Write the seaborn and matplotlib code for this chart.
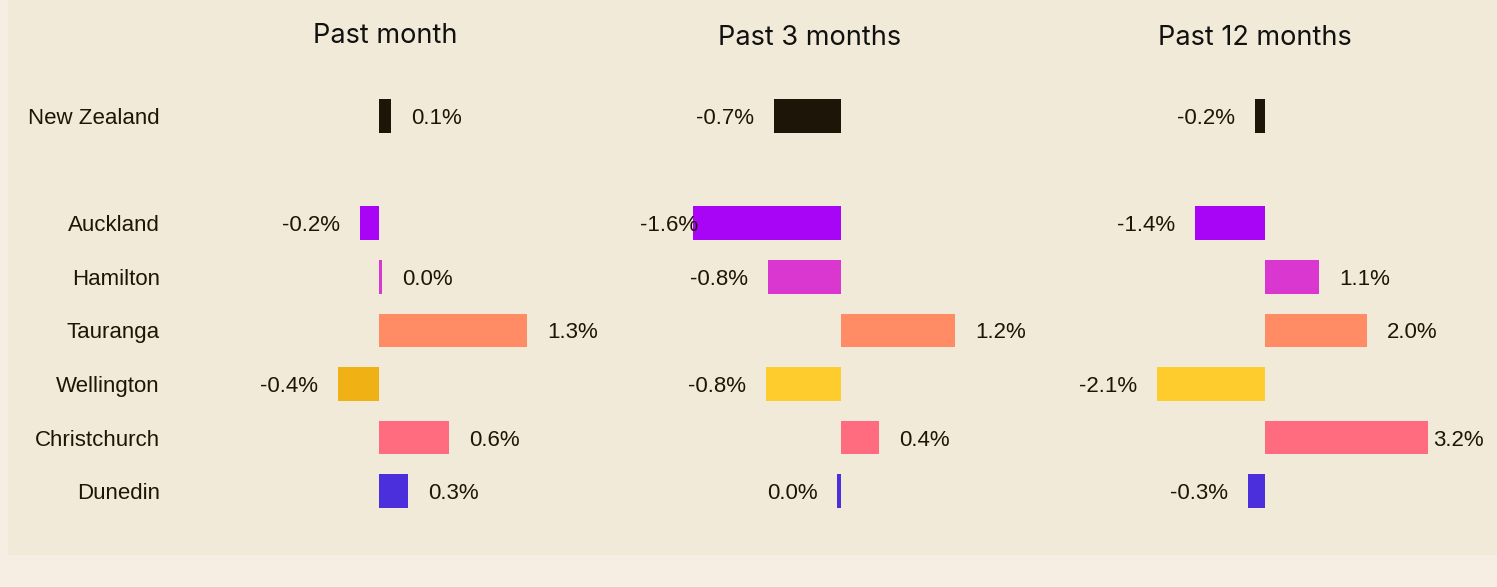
import pandas as pd
import matplotlib.pyplot as plt
import seaborn as sns
from matplotlib.patches import Rectangle

# data (% change in house values)
regions = ['New Zealand', 'Auckland', 'Hamilton', 'Tauranga', 'Wellington', 'Christchurch', 'Dunedin']
row_order = ['New Zealand', ' ', 'Auckland', 'Hamilton', 'Tauranga', 'Wellington', 'Christchurch', 'Dunedin']
past_month = [0.11, -0.17, 0.03, 1.31, -0.36, 0.62, 0.26]
past_3_months = [-0.72, -1.59, -0.78, 1.23, -0.81, 0.41, -0.04]
past_12_months = [-0.2, -1.37, 1.06, 2.0, -2.12, 3.2, -0.33]
titles = ['Past month', 'Past 3 months', 'Past 12 months']

base_colors = {
    'New Zealand': '#1E1509',
    'Auckland': '#A805F7',
    'Hamilton': '#DA37D0',
    'Tauranga': '#FF8C64',
    'Wellington': '#FFCC2E',
    'Christchurch': '#FF6C80',
    'Dunedin': '#4B2FDC',
}
month_colors = dict(base_colors, Wellington='#EFB114')

TEXT = '#1E1509'
PANEL_BG = '#F2EAD9'
OUTER_BG = '#F6EEE2'
W, H = 1497, 587

# zero position (px), px per %, axes left/right (px), title centre x/y (px)
panels = [
    (past_month, month_colors, 379, 113, 200, 620, 385, 36),
    (past_3_months, base_colors, 841, 93, 640, 1040, 810, 38),
    (past_12_months, base_colors, 1265, 51, 1075, 1484, 1255, 38),
]


def fmt(v):
    if round(v, 1) == 0:
        return '0.0%'
    return f'{v:.1f}%'


def main():
    plt.rcParams['font.family'] = ['Liberation Sans', 'DejaVu Sans']
    fig = plt.figure(figsize=(W / 100, H / 100), dpi=100, facecolor=OUTER_BG)
    fig.patches.append(Rectangle((8 / W, 1 - 554 / H), 1 - 8 / W, 554 / H,
                                 transform=fig.transFigure, color=PANEL_BG, zorder=-10))

    # rows: index i sits at 116 + 53.6*i px from top
    y_top, y_bot = 80, 530
    row0, step = 116, 53.6
    labels = []
    for i, (vals, pal, zero, scale, left, right, tx, ty) in enumerate(panels):
        ax = fig.add_axes([left / W, 1 - y_bot / H, (right - left) / W, (y_bot - y_top) / H])
        ax.patch.set_alpha(0)
        df = pd.DataFrame({'region': regions, 'value': vals})
        sns.barplot(data=df, x='value', y='region', hue='region', palette=pal,
                    order=row_order, legend=False, width=0.63, saturation=1,
                    errorbar=None, ax=ax)
        ax.set_xlim((left - zero) / scale, (right - zero) / scale)
        ax.set_ylim((y_bot - row0) / step, (y_top - row0) / step)
        for s in ax.spines.values():
            s.set_visible(False)
        ax.set_xticks([])
        ax.set_xlabel('')
        ax.set_ylabel('')
        if i == 0:
            ax.tick_params(axis='y', length=0, pad=28.8, labelsize=16, labelcolor=TEXT)
        else:
            ax.set_yticks([])
        for r, v in zip(regions, vals):
            y = row_order.index(r)
            off = 20 if v >= 0 else -20
            t = ax.annotate(fmt(v), xy=(v, y), xytext=(off, 0), textcoords='offset pixels',
                            ha='left' if v >= 0 else 'right', va='center_baseline',
                            fontsize=16, color=TEXT, zorder=5)
            labels.append((ax, t))
        fig.text(tx / W, 1 - ty / H, titles[i], ha='center', va='center',
                 fontsize=19.5, color='#111111', family=['Inter', 'DejaVu Sans'])

    # keep value labels inside each panel's bounds
    fig.canvas.draw()
    renderer = fig.canvas.get_renderer()
    for ax, t in labels:
        bb = t.get_window_extent(renderer)
        ab = ax.get_window_extent(renderer)
        dx = 0
        if bb.x0 < ab.x0:
            dx = ab.x0 - bb.x0
        elif bb.x1 > ab.x1:
            dx = ab.x1 - bb.x1
        if dx:
            t.xyann = (t.xyann[0] + dx, t.xyann[1])

    fig.savefig('out.png', dpi=100, facecolor=OUTER_BG)
    plt.close(fig)


if __name__ == '__main__':
    main()
